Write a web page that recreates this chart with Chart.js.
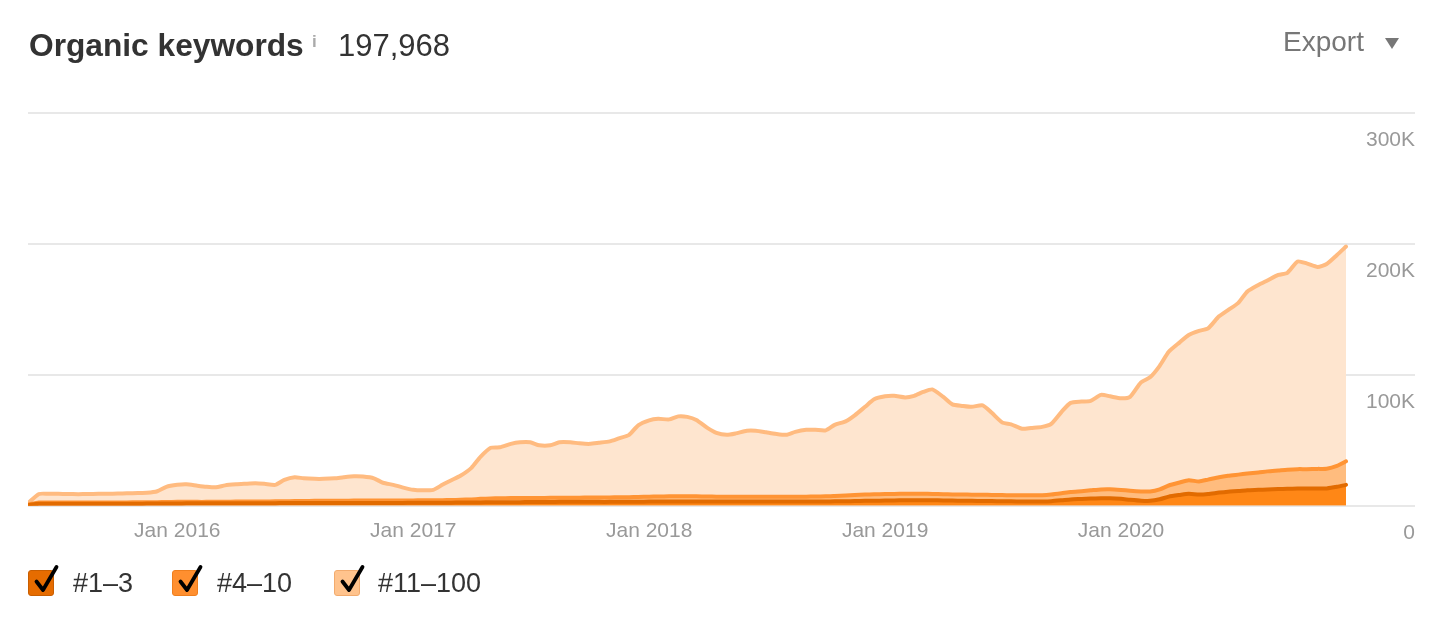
<!DOCTYPE html>
<html>
<head>
<meta charset="utf-8">
<script src="https://cdn.jsdelivr.net/npm/chart.js@4.4.1/dist/chart.umd.min.js"></script>
<style>
  html, body { margin: 0; padding: 0; background: #fff; }
  body { width: 1448px; height: 624px; overflow: hidden; position: relative;
         font-family: "Liberation Sans", Arial, Helvetica, sans-serif; }
  #chart { position: absolute; left: 0; top: 0; }
  .abs { position: absolute; white-space: nowrap; }
  #title { left: 29px; top: 30px; font-size: 31.7px; line-height: 31px; font-weight: bold; color: #333; }
  #info { left: 312px; top: 33px; font-size: 17px; line-height: 17px; color: #aaa; font-weight: bold; }
  #total { left: 338px; top: 30px; font-size: 31px; line-height: 31px; color: #333; }
  #export { left: 1283px; top: 28px; font-size: 28px; line-height: 28px; color: #777; }
  .lg-box { position: absolute; width: 24px; height: 24px; border-radius: 3px; border-style: solid; border-width: 1.5px; }
  .lg-text { position: absolute; font-size: 27px; line-height: 27px; color: #333; white-space: nowrap; }
</style>
</head>
<body>
<canvas id="chart" width="1448" height="624"></canvas>
<div id="title" class="abs">Organic keywords</div>
<div id="info" class="abs">i</div>
<div id="total" class="abs">197,968</div>
<div id="export" class="abs">Export</div>
<svg class="abs" style="left:0;top:0" width="1448" height="80"><polygon points="1385,38 1399,38 1392,49" fill="#777"/></svg>
<div id="legend"></div>
<script>
// ---- data (values in thousands of keywords) ----
const dates = [
  '2015-05-15','2015-06-01','2015-06-15','2015-07-01','2015-07-15','2015-08-01','2015-08-15','2015-09-01','2015-09-15','2015-10-01','2015-10-15','2015-11-01','2015-11-15','2015-12-01','2015-12-15',
  '2016-01-01','2016-01-15','2016-02-01','2016-02-15','2016-03-01','2016-03-15','2016-04-01','2016-04-15','2016-05-01','2016-05-15','2016-06-01','2016-06-15','2016-07-01','2016-07-15','2016-08-01','2016-08-15','2016-09-01','2016-09-15','2016-10-01','2016-10-15','2016-11-01','2016-11-15','2016-12-01','2016-12-15',
  '2017-01-01','2017-01-15','2017-02-01','2017-02-15','2017-03-01','2017-03-15','2017-04-01','2017-04-15','2017-05-01','2017-05-15','2017-06-01','2017-06-15','2017-07-01','2017-07-15','2017-08-01','2017-08-15','2017-09-01','2017-09-15','2017-10-01','2017-10-15','2017-11-01','2017-11-15','2017-12-01','2017-12-15',
  '2018-01-01','2018-01-15','2018-02-01','2018-02-15','2018-03-01','2018-03-15','2018-04-01','2018-04-15','2018-05-01','2018-05-15','2018-06-01','2018-06-15','2018-07-01','2018-07-15','2018-08-01','2018-08-15','2018-09-01','2018-09-15','2018-10-01','2018-10-15','2018-11-01','2018-11-15','2018-12-01','2018-12-15',
  '2019-01-01','2019-01-15','2019-02-01','2019-02-15','2019-03-01','2019-03-15','2019-04-01','2019-04-15','2019-05-01','2019-05-15','2019-06-01','2019-06-15','2019-07-01','2019-07-15','2019-08-01','2019-08-15','2019-09-01','2019-09-15','2019-10-01','2019-10-15','2019-11-01','2019-11-15','2019-12-01','2019-12-15',
  '2020-01-01','2020-01-15','2020-02-01','2020-02-15','2020-03-01','2020-03-15','2020-04-01','2020-04-15','2020-05-01','2020-05-15','2020-06-01','2020-06-15','2020-07-01','2020-07-15','2020-08-01','2020-08-15','2020-09-01','2020-09-15','2020-10-01','2020-10-15','2020-11-01','2020-11-15','2020-12-01','2020-12-15'
];

const pos1to3 = [
  0.5,1.5,1.5,1.5,1.5,1.5,1.5,1.5,1.6,1.6,1.6,1.6,1.7,1.7,1.8,
  1.8,1.9,1.9,1.9,1.9,2.0,2.0,2.0,2.0,2.0,2.0,2.1,2.1,2.1,2.1,2.1,2.1,2.2,2.2,2.2,2.2,2.2,2.2,2.2,
  2.3,2.3,2.3,2.4,2.4,2.5,2.5,2.6,2.7,2.7,2.8,2.8,2.9,2.9,2.9,3.0,3.0,3.0,3.0,3.0,3.0,3.1,3.1,3.1,
  3.2,3.2,3.2,3.2,3.2,3.2,3.2,3.2,3.2,3.2,3.2,3.2,3.2,3.2,3.2,3.2,3.2,3.3,3.3,3.4,3.5,3.6,3.8,3.9,
  4.0,4.1,4.2,4.2,4.2,4.2,4.1,4.0,3.9,3.8,3.7,3.6,3.5,3.4,3.3,3.3,3.3,3.5,4.2,4.9,5.2,5.5,5.8,5.8,
  5.3,4.6,3.9,3.8,5.0,7.0,8.3,9.2,8.6,9.0,10.1,10.8,11.3,11.9,12.2,12.5,12.8,13.0,13.2,13.3,13.2,13.3,14.5,16.0
];

const pos4to10 = [
  0.5,1.0,1.0,1.0,1.0,1.0,1.0,1.0,1.0,1.0,1.0,1.1,1.1,1.1,1.1,
  1.2,1.1,1.1,1.1,1.2,1.1,1.2,1.2,1.3,1.3,1.4,1.4,1.5,1.6,1.7,1.7,1.8,1.7,1.8,1.8,1.8,1.8,1.8,1.9,
  1.8,1.9,1.9,1.9,2.0,2.1,2.4,2.7,2.9,3.1,3.1,3.2,3.1,3.1,3.2,3.1,3.2,3.2,3.3,3.3,3.4,3.4,3.5,3.7,
  3.8,3.9,4.0,4.0,4.0,4.0,3.9,3.8,3.8,3.8,3.8,3.8,3.8,3.8,3.8,3.8,3.8,3.8,3.9,4.1,4.4,4.7,4.8,4.9,
  5.0,5.0,5.0,5.0,5.0,4.9,4.8,4.7,4.7,4.7,4.7,4.7,4.7,4.7,4.7,4.7,4.8,5.1,5.4,5.7,6.0,6.3,6.7,6.8,
  6.8,6.9,7.1,7.1,7.5,8.5,9.5,10.3,10.0,11.0,11.7,12.1,12.5,12.7,13.2,13.8,14.2,14.6,14.8,14.7,15.0,15.0,16.0,18.0
];

const pos11to100 = [
  1.0,6.5,6.7,6.7,6.5,6.4,6.5,6.7,6.6,6.7,6.9,7.0,7.1,8.3,11.6,
  13.0,13.4,12.3,11.5,11.0,12.5,13.2,13.6,13.9,13.5,12.6,16.3,18.2,17.3,16.8,16.8,17.1,17.9,18.5,18.3,17.0,13.6,12.0,10.0,
  8.1,7.6,8.0,11.7,15.1,18.3,24.1,32.1,38.7,38.9,41.4,42.5,42.5,40.2,40.1,42.4,42.3,41.5,41.0,41.8,42.8,45.0,47.6,54.7,
  58.3,59.3,58.8,61.1,60.7,58.4,52.4,48.7,47.2,48.3,50.3,50.3,49.1,48.0,47.2,49.5,51.0,50.9,50.4,54.3,56.6,60.8,67.0,72.5,
  74.6,74.9,73.6,74.8,77.8,79.8,74.3,68.8,67.7,67.1,68.3,62.7,55.5,54.1,50.8,51.5,52.2,54.0,62.2,68.0,68.4,68.4,72.2,71.0,
  70.0,71.7,83.3,87.2,94.4,102.1,107.0,111.0,115.0,115.5,122.9,126.6,131.2,139.1,143.3,145.8,149.3,150.3,158.6,157.1,154.2,156.4,161.1,164.0
];

const seriesNames = ['#1–3', '#4–10', '#11–100'];
const yTicks = [0, 100, 200, 300];
const xTickYears = [2016, 2017, 2018, 2019, 2020];

// ---- helpers ----
function toYear(s) {
  const y = +s.slice(0,4);
  const d = Date.UTC(y, +s.slice(5,7) - 1, +s.slice(8,10));
  const a = Date.UTC(y, 0, 1), b = Date.UTC(y + 1, 0, 1);
  return y + (d - a) / (b - a);
}
const xs = dates.map(toYear);
const pts = arr => arr.map((v, i) => ({ x: xs[i], y: v }));

const styles = [
  { line: '#e26b00', fill: '#ff8716', box: '#e66c00', boxBorder: '#c95e00' },
  { line: '#ff9434', fill: '#ffbc7e', box: '#ff8f2f', boxBorder: '#ef7f1e' },
  { line: '#ffbb80', fill: '#fee5cf', box: '#ffc38d', boxBorder: '#f2ab6e' }
];
const seriesData = [pos1to3, pos4to10, pos11to100];

const datasets = seriesData.map((arr, i) => ({
  label: seriesNames[i],
  data: pts(arr),
  borderColor: styles[i].line,
  backgroundColor: styles[i].fill,
  borderWidth: 4,
  pointRadius: 0,
  pointHoverRadius: 0,
  tension: 0.2,
  borderJoinStyle: 'round',
  borderCapStyle: 'round',
  fill: i === 0 ? 'origin' : '-1'
}));

const chart = new Chart(document.getElementById('chart'), {
  type: 'line',
  data: { datasets },
  options: {
    responsive: false,
    animation: false,
    devicePixelRatio: 1,
    layout: { padding: { left: 28, right: 33, top: 113, bottom: 75 } },
    plugins: { legend: { display: false }, tooltip: { enabled: false } },
    scales: {
      x: {
        type: 'linear',
        min: xs[0],
        max: 2021.246,
        grid: { display: false },
        border: { display: false },
        afterBuildTicks: axis => { axis.ticks = xTickYears.map(v => ({ value: v })); },
        ticks: {
          autoSkip: false,
          maxRotation: 0,
          padding: 5,
          color: '#999',
          font: { family: '"Liberation Sans", Arial, sans-serif', size: 21 },
          callback: v => 'Jan ' + v
        }
      },
      y: {
        type: 'linear',
        position: 'right',
        stacked: true,
        min: 0,
        max: 300,
        afterBuildTicks: axis => { axis.ticks = yTicks.map(v => ({ value: v })); },
        grid: { color: '#e8e8e8', lineWidth: 2, drawTicks: false },
        border: { display: false },
        ticks: {
          mirror: true,
          padding: 0,
          labelOffset: 27,
          color: '#999',
          font: { family: '"Liberation Sans", Arial, sans-serif', size: 21 },
          callback: v => v === 0 ? '0' : v + 'K'
        }
      }
    }
  }
});

// ---- legend (built from the chart's datasets) ----
const legendX = [28, 172, 334];
const legendTextX = [73, 217, 378];
const lg = document.getElementById('legend');
chart.data.datasets.forEach((ds, i) => {
  const box = document.createElement('div');
  box.className = 'lg-box';
  box.style.left = legendX[i] + 'px';
  box.style.top = '570px';
  box.style.background = styles[i].box;
  box.style.borderColor = styles[i].boxBorder;
  lg.appendChild(box);
  const svgNS = 'http://www.w3.org/2000/svg';
  const svg = document.createElementNS(svgNS, 'svg');
  svg.setAttribute('width', '40'); svg.setAttribute('height', '40');
  svg.style.position = 'absolute';
  svg.style.left = legendX[i] + 'px';
  svg.style.top = '560px';
  const p = document.createElementNS(svgNS, 'path');
  p.setAttribute('d', 'M8.5 21.5 L15 30 L28.5 7');
  p.setAttribute('stroke', '#000'); p.setAttribute('stroke-width', '3.8');
  p.setAttribute('fill', 'none'); p.setAttribute('stroke-linecap', 'round'); p.setAttribute('stroke-linejoin', 'round');
  svg.appendChild(p);
  lg.appendChild(svg);
  const t = document.createElement('div');
  t.className = 'lg-text';
  t.style.left = legendTextX[i] + 'px';
  t.style.top = '570px';
  t.textContent = ds.label;
  lg.appendChild(t);
});
</script>
</body>
</html>
